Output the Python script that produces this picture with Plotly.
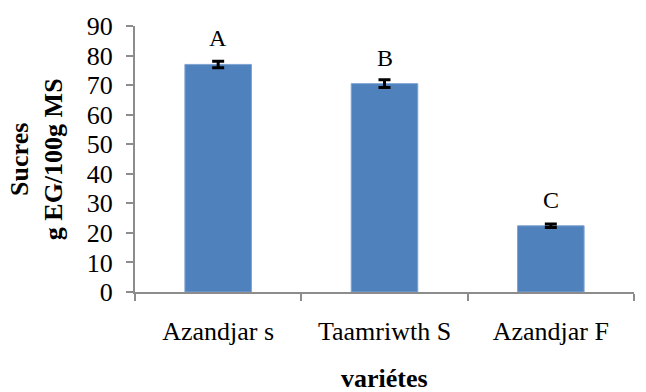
import plotly.graph_objects as go

categories = ["Azandjar s", "Taamriwth S", "Azandjar F"]
values = [77.0, 70.5, 22.4]
errors = [1.1, 1.3, 0.6]
letters = ["A", "B", "C"]
y_ticks = [0, 10, 20, 30, 40, 50, 60, 70, 80, 90]

FONT = "Liberation Serif"
AXIS_COLOR = "#8c8c8c"
FS = 26

fig = go.Figure()
fig.add_trace(go.Bar(
    x=categories, y=values,
    marker=dict(color="#4F81BD", line=dict(color="#7EA3D2", width=1)),
    error_y=dict(type="data", array=errors, visible=True, color="black", thickness=3, width=6),
    width=0.4,
))

for c, v, e, l in zip(categories, values, errors, letters):
    fig.add_annotation(x=c, y=v, text=l, showarrow=False, yshift=26,
                       font=dict(family=FONT, size=24, color="black"))

fig.add_annotation(xref="paper", yref="paper", x=-0.198, y=0.5,
                   text="<b>Sucres<br>g EG/100g MS</b>", textangle=-90,
                   showarrow=False, xanchor="center", yanchor="middle",
                   font=dict(family=FONT, size=FS, color="black"))
fig.add_annotation(xref="paper", yref="paper", x=0.5, y=-0.325,
                   text="<b>variétes</b>", showarrow=False,
                   xanchor="center", yanchor="middle",
                   font=dict(family=FONT, size=FS, color="black"))

fig.update_layout(
    width=646, height=392,
    margin=dict(l=135, r=12, t=24, b=100),
    plot_bgcolor="white", paper_bgcolor="white",
    showlegend=False,
    font=dict(family=FONT, size=FS, color="black"),
)
fig.update_xaxes(
    type="category", tickson="boundaries",
    showline=True, linecolor=AXIS_COLOR, linewidth=2,
    ticks="outside", ticklen=7, tickcolor=AXIS_COLOR, tickwidth=2,
    ticklabelstandoff=15, showgrid=False, zeroline=False,
    tickfont=dict(family=FONT, size=FS, color="black"),
)
fig.update_yaxes(
    range=[0, 90], tickvals=y_ticks,
    showline=True, linecolor=AXIS_COLOR, linewidth=2,
    ticks="outside", ticklen=7, tickcolor=AXIS_COLOR, tickwidth=2,
    ticklabelstandoff=8, showgrid=False, zeroline=False,
    tickfont=dict(family=FONT, size=FS, color="black"),
)

fig.write_html("out.html")
